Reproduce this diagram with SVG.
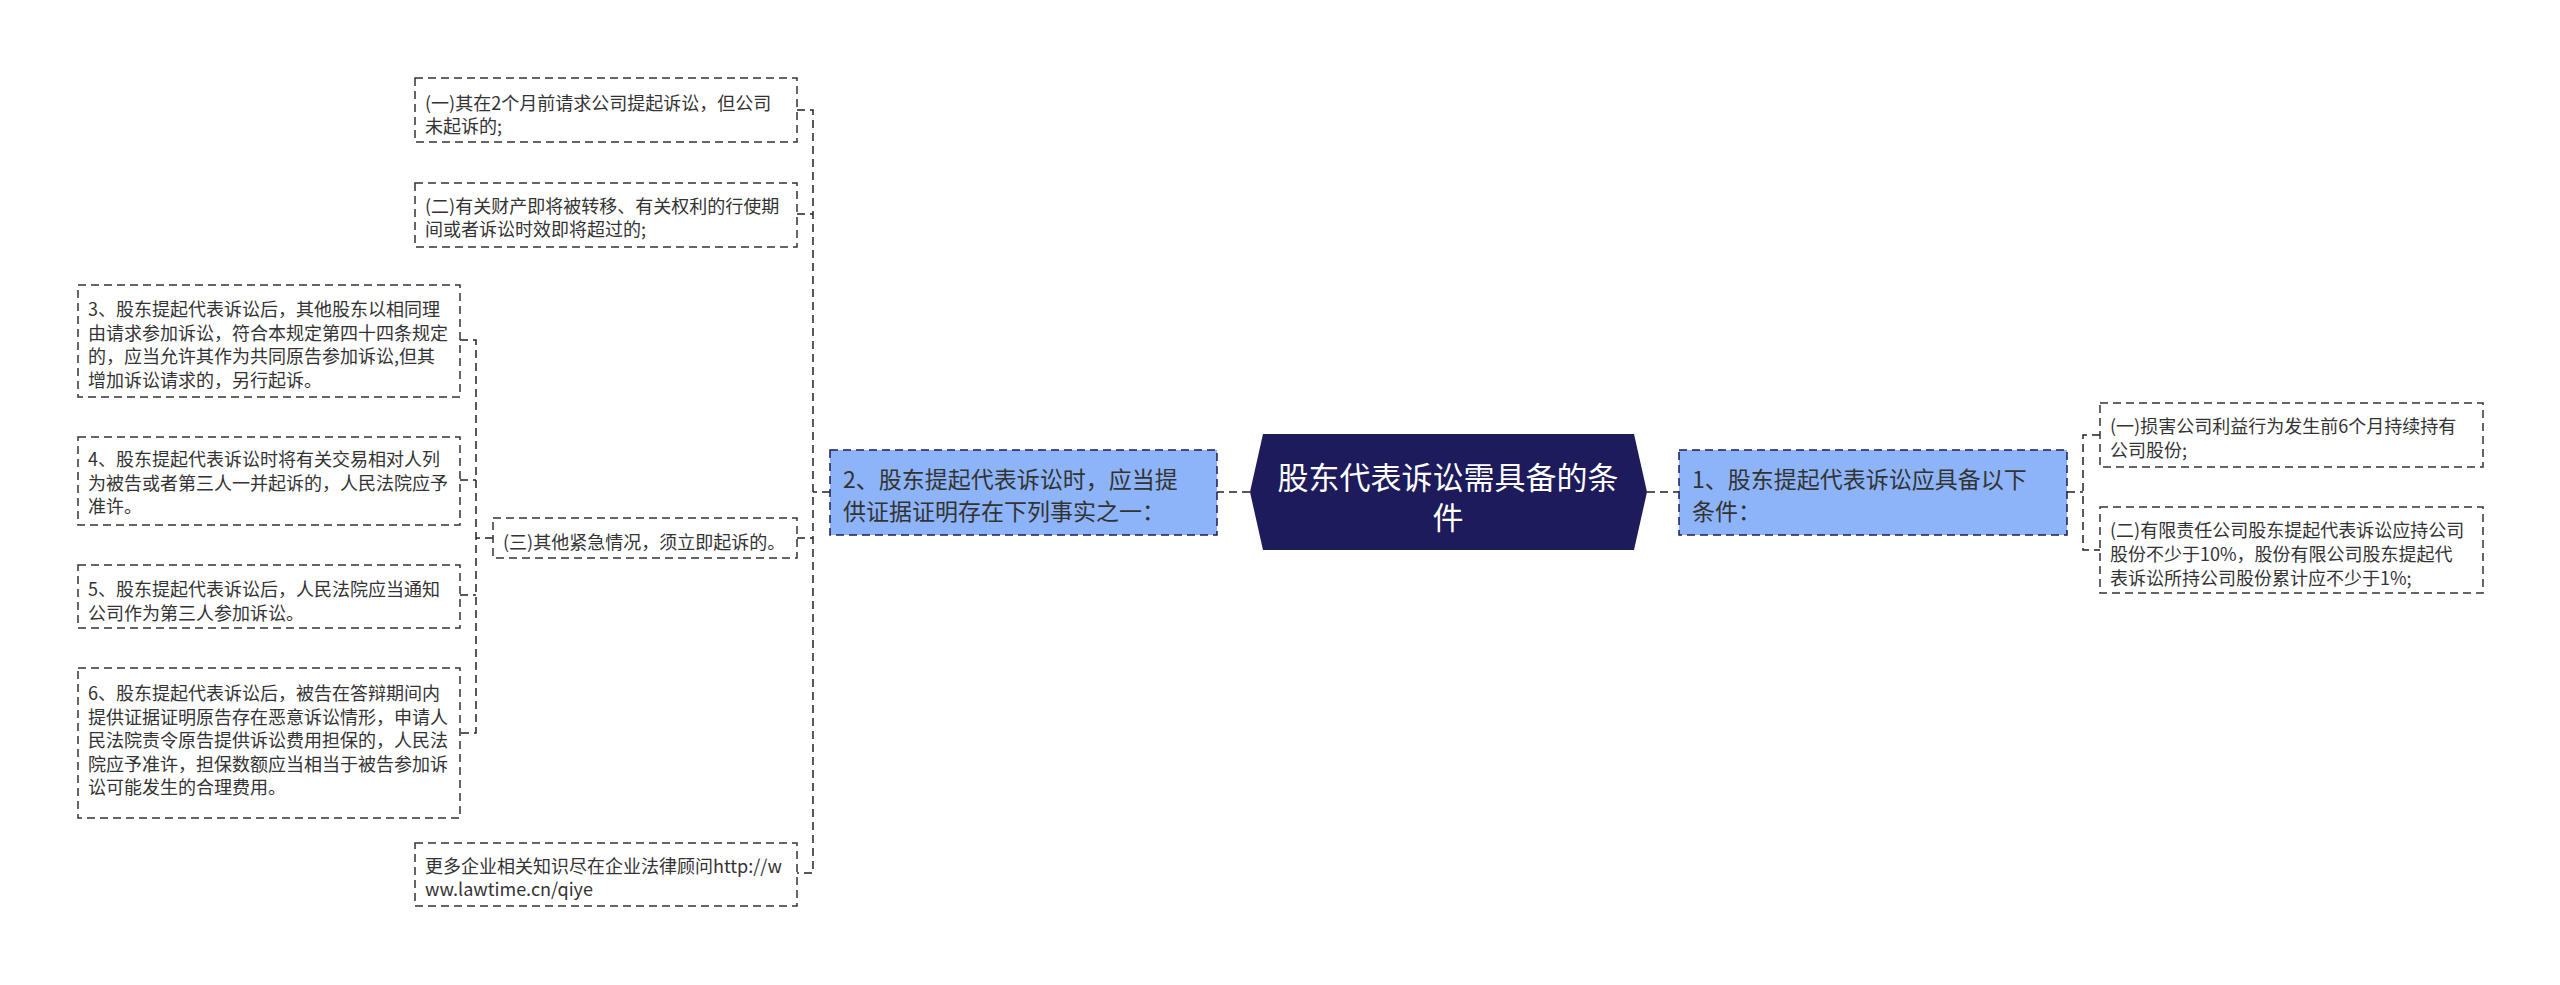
<svg xmlns="http://www.w3.org/2000/svg" width="2560" height="985" viewBox="0 0 2560 985">
<style>
text{font-family:"Microsoft YaHei","Noto Sans CJK SC","Noto Sans",sans-serif;dominant-baseline:central;}
.t{font-size:18px;fill:#333333;}
.m{font-size:23px;fill:#333333;}
.c{font-size:31px;fill:#ffffff;}
.box{fill:#ffffff;stroke:#333333;stroke-width:1.5;stroke-dasharray:8 5;}
.blue{fill:#8db3f8;stroke:#1d1b5b;stroke-width:1.5;stroke-dasharray:8 5;}
.conn{fill:none;stroke:#222222;stroke-width:1.5;stroke-dasharray:8 5;}
</style>
<rect width="2560" height="985" fill="#ffffff"/>
<g id="connectors">
<path class="conn" d="M1647 492 H1679"/>
<path class="conn" d="M1250 492 H1217"/>
<path class="conn" d="M2067 492 H2083 M2100 435 H2083 V550 H2100"/>
<path class="conn" d="M830 492 H813 M797 110 H813 V873 H797 M797 214 H813 M797 538 H813"/>
<path class="conn" d="M493 538 H476 M460 340 H476 V733 H460 M460 480 H476 M460 595 H476"/>
</g>
<g id="center">
<polygon points="1250,492 1263,434 1634,434 1647,492 1634,550 1263,550" fill="#1d1b5b"/>
<text class="c" text-anchor="middle"><tspan x="1448" y="475">股东代表诉讼需具备的条</tspan><tspan x="1448" y="515">件</tspan></text>
</g>
<g id="right-main">
<rect class="blue" x="1679" y="450" width="388" height="85"/>
<text class="m"><tspan x="1692" y="478">1、股东提起代表诉讼应具备以下</tspan><tspan x="1692" y="510">条件：</tspan></text>
</g>
<g id="right-1">
<rect class="box" x="2100" y="403" width="383" height="64"/>
<text class="t"><tspan x="2110" y="425">(一)损害公司利益行为发生前6个月持续持有</tspan><tspan x="2110" y="449">公司股份;</tspan></text>
</g>
<g id="right-2">
<rect class="box" x="2100" y="507" width="383" height="86"/>
<text class="t"><tspan x="2110" y="529">(二)有限责任公司股东提起代表诉讼应持公司</tspan><tspan x="2110" y="553">股份不少于10%，股份有限公司股东提起代</tspan><tspan x="2110" y="577">表诉讼所持公司股份累计应不少于1%;</tspan></text>
</g>
<g id="left-main">
<rect class="blue" x="830" y="450" width="387" height="85"/>
<text class="m"><tspan x="843" y="478">2、股东提起代表诉讼时，应当提</tspan><tspan x="843" y="510">供证据证明存在下列事实之一：</tspan></text>
</g>
<g id="left-1">
<rect class="box" x="415" y="78" width="382" height="64"/>
<text class="t"><tspan x="425" y="102">(一)其在2个月前请求公司提起诉讼，但公司</tspan><tspan x="425" y="125">未起诉的;</tspan></text>
</g>
<g id="left-2">
<rect class="box" x="415" y="183" width="382" height="64"/>
<text class="t"><tspan x="425" y="205">(二)有关财产即将被转移、有关权利的行使期</tspan><tspan x="425" y="228">间或者诉讼时效即将超过的;</tspan></text>
</g>
<g id="left-3">
<rect class="box" x="493" y="518" width="304" height="40"/>
<text class="t"><tspan x="503" y="541">(三)其他紧急情况，须立即起诉的。</tspan></text>
</g>
<g id="left-4">
<rect class="box" x="415" y="843" width="382" height="63"/>
<text class="t"><tspan x="425" y="865">更多企业相关知识尽在企业法律顾问http://w</tspan><tspan x="425" y="888">ww.lawtime.cn/qiye</tspan></text>
</g>
<g id="sub-3">
<rect class="box" x="78" y="285" width="382" height="112"/>
<text class="t"><tspan x="88" y="308">3、股东提起代表诉讼后，其他股东以相同理</tspan><tspan x="88" y="331.5">由请求参加诉讼，符合本规定第四十四条规定</tspan><tspan x="88" y="355">的，应当允许其作为共同原告参加诉讼,但其</tspan><tspan x="88" y="378.5">增加诉讼请求的，另行起诉。</tspan></text>
</g>
<g id="sub-4">
<rect class="box" x="78" y="437" width="382" height="88"/>
<text class="t"><tspan x="88" y="458">4、股东提起代表诉讼时将有关交易相对人列</tspan><tspan x="88" y="481.5">为被告或者第三人一并起诉的，人民法院应予</tspan><tspan x="88" y="505">准许。</tspan></text>
</g>
<g id="sub-5">
<rect class="box" x="78" y="565" width="382" height="63"/>
<text class="t"><tspan x="88" y="588">5、股东提起代表诉讼后，人民法院应当通知</tspan><tspan x="88" y="611.5">公司作为第三人参加诉讼。</tspan></text>
</g>
<g id="sub-6">
<rect class="box" x="78" y="668" width="382" height="150"/>
<text class="t"><tspan x="88" y="692">6、股东提起代表诉讼后，被告在答辩期间内</tspan><tspan x="88" y="715.5">提供证据证明原告存在恶意诉讼情形，申请人</tspan><tspan x="88" y="739">民法院责令原告提供诉讼费用担保的，人民法</tspan><tspan x="88" y="762.5">院应予准许，担保数额应当相当于被告参加诉</tspan><tspan x="88" y="786">讼可能发生的合理费用。</tspan></text>
</g>
</svg>
